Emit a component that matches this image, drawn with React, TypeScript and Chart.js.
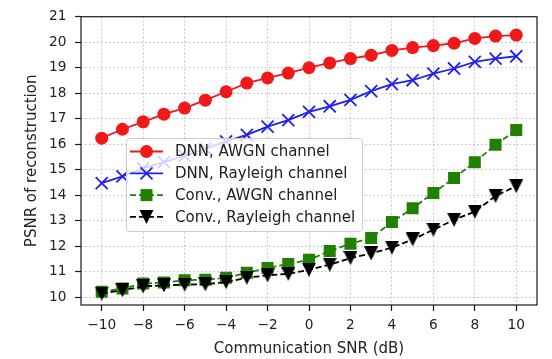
import React, { useEffect, useRef } from 'react';
import { Chart, registerables } from 'chart.js';

Chart.register(...registerables);

// ---------------- data ----------------
const snrDb = [-10, -9, -8, -7, -6, -5, -4, -3, -2, -1, 0, 1, 2, 3, 4, 5, 6, 7, 8, 9, 10];

const dnnAwgn = [16.24, 16.59, 16.88, 17.18, 17.42, 17.73, 18.06, 18.4, 18.6, 18.79, 19.0, 19.19, 19.36, 19.49, 19.68, 19.79, 19.87, 19.96, 20.15, 20.24, 20.28];
const dnnRayleigh = [14.48, 14.74, 15.06, 15.3, 15.55, 15.82, 16.11, 16.37, 16.69, 16.95, 17.27, 17.49, 17.74, 18.08, 18.36, 18.51, 18.77, 18.97, 19.23, 19.36, 19.45];
const convAwgn = [10.22, 10.35, 10.54, 10.58, 10.67, 10.69, 10.77, 10.96, 11.15, 11.31, 11.47, 11.82, 12.1, 12.33, 12.95, 13.49, 14.09, 14.68, 15.3, 15.98, 16.56];
const convRayleigh = [10.15, 10.28, 10.43, 10.47, 10.5, 10.51, 10.6, 10.77, 10.86, 10.92, 11.08, 11.28, 11.54, 11.72, 11.95, 12.27, 12.65, 13.04, 13.36, 13.97, 14.36];

const seriesNames = ['DNN, AWGN channel', 'DNN, Rayleigh channel', 'Conv., AWGN channel', 'Conv., Rayleigh channel'];
const xTickValues = [-10, -8, -6, -4, -2, 0, 2, 4, 6, 8, 10];
const yTickValues = [10, 11, 12, 13, 14, 15, 16, 17, 18, 19, 20, 21];
const xTitle = 'Communication SNR (dB)';
const yTitle = 'PSNR of reconstruction';

// ---------------- styles ----------------
const FONT = "'DejaVu Sans', sans-serif";
const TEXT = '#222222';
const RED = '#f01818';
const BLUE = '#2020f0';
const GREEN = '#208000';
const BLACK = '#000000';

function fmt(v: number): string {
  return String(v).replace('-', '\u2212');
}

function makeDownTriangle(size: number, color: string): HTMLCanvasElement {
  const c = document.createElement('canvas');
  c.width = size;
  c.height = size;
  const g = c.getContext('2d')!;
  g.fillStyle = color;
  g.beginPath();
  g.moveTo(0, 0);
  g.lineTo(size, 0);
  g.lineTo(size / 2, size);
  g.closePath();
  g.fill();
  return c;
}

type Marker = 'circle' | 'x' | 'square' | 'vtri';

function drawMarker(ctx: CanvasRenderingContext2D, kind: Marker, x: number, y: number, color: string) {
  ctx.save();
  ctx.setLineDash([]);
  ctx.fillStyle = color;
  ctx.strokeStyle = color;
  if (kind === 'circle') {
    ctx.beginPath();
    ctx.arc(x, y, 6.5, 0, Math.PI * 2);
    ctx.fill();
  } else if (kind === 'x') {
    const h = 6;
    ctx.lineWidth = 1.8;
    ctx.beginPath();
    ctx.moveTo(x - h, y - h);
    ctx.lineTo(x + h, y + h);
    ctx.moveTo(x - h, y + h);
    ctx.lineTo(x + h, y - h);
    ctx.stroke();
  } else if (kind === 'square') {
    ctx.fillRect(x - 6, y - 6, 12, 12);
  } else {
    ctx.beginPath();
    ctx.moveTo(x - 7, y - 7);
    ctx.lineTo(x + 7, y - 7);
    ctx.lineTo(x, y + 7);
    ctx.closePath();
    ctx.fill();
  }
  ctx.restore();
}

const legendEntries: { name: string; color: string; marker: Marker; dashed: boolean }[] = [
  { name: seriesNames[0], color: RED, marker: 'circle', dashed: false },
  { name: seriesNames[1], color: BLUE, marker: 'x', dashed: false },
  { name: seriesNames[2], color: GREEN, marker: 'square', dashed: true },
  { name: seriesNames[3], color: BLACK, marker: 'vtri', dashed: true },
];

const framePlugin = {
  id: 'mplFrame',
  afterDatasetsDraw(chart: any) {
    const { ctx, chartArea } = chart;
    ctx.save();
    ctx.strokeStyle = '#1a1a1a';
    ctx.lineWidth = 1.2;
    ctx.setLineDash([]);
    ctx.strokeRect(chartArea.left, chartArea.top, chartArea.right - chartArea.left, chartArea.bottom - chartArea.top);
    ctx.restore();
  },
};

const titlesPlugin = {
  id: 'mplTitles',
  afterDraw(chart: any) {
    const { ctx, chartArea } = chart;
    ctx.save();
    ctx.fillStyle = TEXT;
    ctx.font = `15px ${FONT}`;
    ctx.textAlign = 'center';
    ctx.textBaseline = 'alphabetic';
    ctx.fillText(xTitle, (chartArea.left + chartArea.right) / 2, 352.5);
    ctx.translate(36, (chartArea.top + chartArea.bottom) / 2);
    ctx.rotate(-Math.PI / 2);
    ctx.fillText(yTitle, 0, 0);
    ctx.restore();
  },
};

const legendPlugin = {
  id: 'mplLegend',
  afterDraw(chart: any) {
    const ctx: CanvasRenderingContext2D = chart.ctx;
    ctx.save();
    const x0 = 126.5, y0 = 138.5, x1 = 362.5, y1 = 231.5, r = 3;
    ctx.beginPath();
    ctx.moveTo(x0 + r, y0);
    ctx.lineTo(x1 - r, y0);
    ctx.quadraticCurveTo(x1, y0, x1, y0 + r);
    ctx.lineTo(x1, y1 - r);
    ctx.quadraticCurveTo(x1, y1, x1 - r, y1);
    ctx.lineTo(x0 + r, y1);
    ctx.quadraticCurveTo(x0, y1, x0, y1 - r);
    ctx.lineTo(x0, y0 + r);
    ctx.quadraticCurveTo(x0, y0, x0 + r, y0);
    ctx.closePath();
    ctx.fillStyle = 'rgba(255,255,255,0.8)';
    ctx.fill();
    ctx.strokeStyle = '#cccccc';
    ctx.lineWidth = 1;
    ctx.stroke();

    ctx.font = `15px ${FONT}`;
    ctx.textAlign = 'left';
    ctx.textBaseline = 'middle';
    legendEntries.forEach((e, i) => {
      const y = 151.5 + i * 21.8;
      ctx.save();
      ctx.strokeStyle = e.color;
      ctx.lineWidth = 1.8;
      ctx.setLineDash(e.dashed ? [6, 3] : []);
      ctx.beginPath();
      ctx.moveTo(130, y);
      ctx.lineTo(163, y);
      ctx.stroke();
      ctx.restore();
      drawMarker(ctx, e.marker, 146.5, y, e.color);
      ctx.fillStyle = TEXT;
      ctx.fillText(e.name, 175, y + 1);
    });
    ctx.restore();
  },
};

function toPoints(ys: number[]) {
  return snrDb.map((x, i) => ({ x, y: ys[i] }));
}

export default function App() {
  const ref = useRef<HTMLCanvasElement | null>(null);

  useEffect(() => {
    if (!ref.current) return;
    const tri = makeDownTriangle(14, BLACK);
    const gridCommon = {
      color: '#bdbdbd',
      lineWidth: 1,
      tickColor: '#1a1a1a',
      tickLength: 6,
      tickWidth: 1.2,
      drawTicks: true,
    };
    const tickFont = { family: FONT, size: 13.7 };
    const chart = new Chart(ref.current, {
      type: 'line',
      data: {
        datasets: [
          {
            label: seriesNames[0],
            data: toPoints(dnnAwgn),
            borderColor: RED,
            backgroundColor: RED,
            borderWidth: 1.8,
            pointStyle: 'circle',
            pointRadius: 6.5,
            pointBorderWidth: 0,
            pointBackgroundColor: RED,
            order: 3,
          },
          {
            label: seriesNames[1],
            data: toPoints(dnnRayleigh),
            borderColor: BLUE,
            backgroundColor: BLUE,
            borderWidth: 1.8,
            pointStyle: 'crossRot',
            pointRadius: 8.5,
            pointBorderWidth: 1.8,
            pointBorderColor: BLUE,
            order: 2,
          },
          {
            label: seriesNames[2],
            data: toPoints(convAwgn),
            borderColor: GREEN,
            backgroundColor: GREEN,
            borderWidth: 1.8,
            borderDash: [6, 3],
            pointStyle: 'rect',
            pointRadius: 8.5,
            pointBorderWidth: 0,
            pointBackgroundColor: GREEN,
            order: 1,
          },
          {
            label: seriesNames[3],
            data: toPoints(convRayleigh),
            borderColor: BLACK,
            backgroundColor: BLACK,
            borderWidth: 1.8,
            borderDash: [6, 3],
            pointStyle: tri as any,
            pointRadius: 7,
            pointBorderWidth: 0,
            order: 0,
          },
        ],
      },
      options: {
        responsive: false,
        animation: false,
        devicePixelRatio: 1,
        layout: { padding: { top: 12, right: 15, left: 0, bottom: 0 } },
        plugins: {
          legend: { display: false },
          tooltip: { enabled: false },
          title: { display: false },
        },
        elements: { line: { tension: 0 } },
        scales: {
          x: {
            type: 'linear',
            min: -11,
            max: 11,
            afterBuildTicks: (s: any) => {
              s.ticks = xTickValues.map((v) => ({ value: v }));
            },
            afterFit: (s: any) => {
              s.height = 54;
            },
            grid: gridCommon,
            border: { display: false, dash: [1.5, 2.5] },
            ticks: {
              autoSkip: false,
              maxRotation: 0,
              padding: 6,
              color: TEXT,
              font: tickFont,
              callback: (v: any) => fmt(Number(v)),
            },
          },
          y: {
            type: 'linear',
            min: 9.7,
            max: 21,
            afterBuildTicks: (s: any) => {
              s.ticks = yTickValues.map((v) => ({ value: v }));
            },
            afterFit: (s: any) => {
              s.width = 81;
            },
            grid: gridCommon,
            border: { display: false, dash: [1.5, 2.5] },
            ticks: {
              autoSkip: false,
              padding: 8.5,
              color: TEXT,
              font: tickFont,
              callback: (v: any) => fmt(Number(v)),
            },
          },
        },
      },
      plugins: [framePlugin, titlesPlugin, legendPlugin],
    } as any);
    return () => chart.destroy();
  }, []);

  return (
    <div style={{ position: 'fixed', left: 0, top: 0, width: 552, height: 359, background: '#ffffff' }}>
      <canvas ref={ref} width={552} height={359} style={{ display: 'block', width: 552, height: 359 }} />
    </div>
  );
}
